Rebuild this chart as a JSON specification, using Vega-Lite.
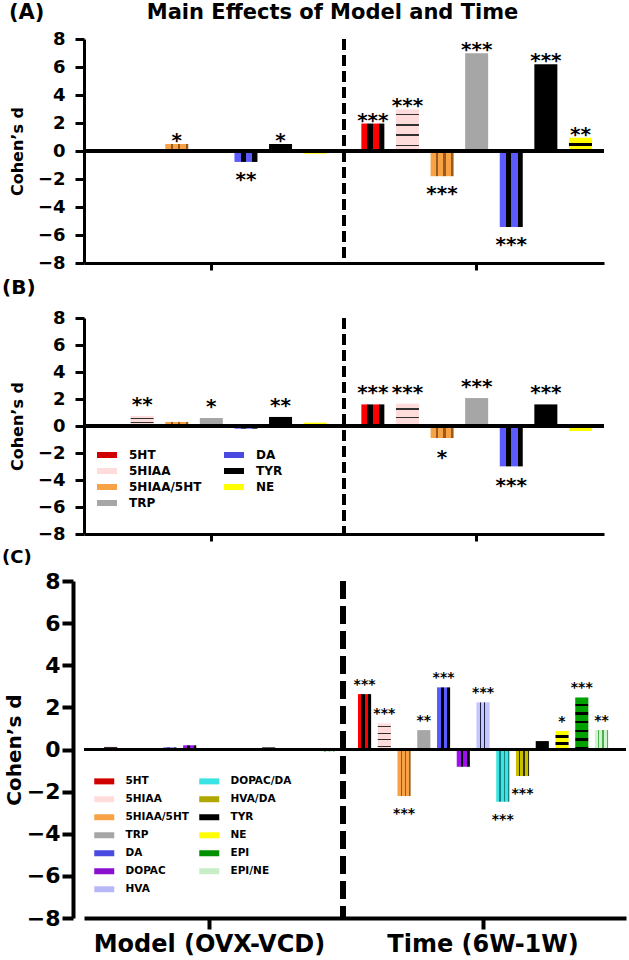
{
  "$schema": "https://vega.github.io/schema/vega-lite/v6.json",
  "padding": {"left": 2, "top": 2, "right": 0, "bottom": 0},
  "columns": 1,
  "spacing": 6,
  "resolve": {"scale": {"x": "independent", "y": "independent", "xOffset": "independent", "fill": "independent"}, "legend": {"fill": "independent"}},
  "config": {
    "font": "DejaVu Sans",
    "view": {"stroke": null},
    "axis": {"domainColor": "black", "tickColor": "black", "labelColor": "black", "titleColor": "black", "grid": false, "labelFontWeight": "bold", "titleFontWeight": "bold", "labelFont": "DejaVu Sans", "titleFont": "DejaVu Sans", "labelOverlap": false},
    "axisY": {"tickCount": 9, "labelOverlap": false},
    "title": {"font": "DejaVu Sans", "fontWeight": "bold", "color": "black", "anchor": "start", "frame": "group"},
    "legend": {"labelFont": "DejaVu Sans", "labelFontWeight": "bold", "labelColor": "black"}
  },
  "datasets": {
    "A": [
      {"g": "Model (OVX-VCD)", "m": "5HT", "d": 0, "s": ""},
      {"g": "Model (OVX-VCD)", "m": "5HIAA", "d": 0, "s": ""},
      {"g": "Model (OVX-VCD)", "m": "5HIAA/5HT", "d": 0.5, "s": "*"},
      {"g": "Model (OVX-VCD)", "m": "TRP", "d": 0, "s": ""},
      {"g": "Model (OVX-VCD)", "m": "DA", "d": -0.78, "s": "**"},
      {"g": "Model (OVX-VCD)", "m": "TYR", "d": 0.5, "s": "*"},
      {"g": "Model (OVX-VCD)", "m": "NE", "d": -0.2, "s": ""},
      {"g": "Time (6W-1W)", "m": "5HT", "d": 1.96, "s": "***"},
      {"g": "Time (6W-1W)", "m": "5HIAA", "d": 2.97, "s": "***"},
      {"g": "Time (6W-1W)", "m": "5HIAA/5HT", "d": -1.8, "s": "***"},
      {"g": "Time (6W-1W)", "m": "TRP", "d": 6.98, "s": "***"},
      {"g": "Time (6W-1W)", "m": "DA", "d": -5.43, "s": "***"},
      {"g": "Time (6W-1W)", "m": "TYR", "d": 6.2, "s": "***"},
      {"g": "Time (6W-1W)", "m": "NE", "d": 0.95, "s": "**"}
    ],
    "B": [
      {"g": "Model (OVX-VCD)", "m": "5HT", "d": 0, "s": ""},
      {"g": "Model (OVX-VCD)", "m": "5HIAA", "d": 0.74, "s": "**"},
      {"g": "Model (OVX-VCD)", "m": "5HIAA/5HT", "d": 0.3, "s": ""},
      {"g": "Model (OVX-VCD)", "m": "TRP", "d": 0.59, "s": "*"},
      {"g": "Model (OVX-VCD)", "m": "DA", "d": -0.2, "s": ""},
      {"g": "Model (OVX-VCD)", "m": "TYR", "d": 0.67, "s": "**"},
      {"g": "Model (OVX-VCD)", "m": "NE", "d": 0.25, "s": ""},
      {"g": "Time (6W-1W)", "m": "5HT", "d": 1.6, "s": "***"},
      {"g": "Time (6W-1W)", "m": "5HIAA", "d": 1.65, "s": "***"},
      {"g": "Time (6W-1W)", "m": "5HIAA/5HT", "d": -0.89, "s": "*"},
      {"g": "Time (6W-1W)", "m": "TRP", "d": 2.07, "s": "***"},
      {"g": "Time (6W-1W)", "m": "DA", "d": -2.99, "s": "***"},
      {"g": "Time (6W-1W)", "m": "TYR", "d": 1.6, "s": "***"},
      {"g": "Time (6W-1W)", "m": "NE", "d": -0.37, "s": ""}
    ],
    "C": [
      {"g": "Model (OVX-VCD)", "m": "5HT", "d": 0, "s": ""},
      {"g": "Model (OVX-VCD)", "m": "5HIAA", "d": 0.15, "s": ""},
      {"g": "Model (OVX-VCD)", "m": "5HIAA/5HT", "d": 0, "s": ""},
      {"g": "Model (OVX-VCD)", "m": "TRP", "d": 0, "s": ""},
      {"g": "Model (OVX-VCD)", "m": "DA", "d": 0.1, "s": ""},
      {"g": "Model (OVX-VCD)", "m": "DOPAC", "d": 0.2, "s": ""},
      {"g": "Model (OVX-VCD)", "m": "HVA", "d": 0, "s": ""},
      {"g": "Model (OVX-VCD)", "m": "DOPAC/DA", "d": 0.06, "s": ""},
      {"g": "Model (OVX-VCD)", "m": "HVA/DA", "d": 0, "s": ""},
      {"g": "Model (OVX-VCD)", "m": "TYR", "d": 0.1, "s": ""},
      {"g": "Model (OVX-VCD)", "m": "NE", "d": 0.06, "s": ""},
      {"g": "Model (OVX-VCD)", "m": "EPI", "d": 0, "s": ""},
      {"g": "Model (OVX-VCD)", "m": "EPI/NE", "d": -0.1, "s": ""},
      {"g": "Time (6W-1W)", "m": "5HT", "d": 2.63, "s": "***"},
      {"g": "Time (6W-1W)", "m": "5HIAA", "d": 1.24, "s": "***"},
      {"g": "Time (6W-1W)", "m": "5HIAA/5HT", "d": -2.21, "s": "***"},
      {"g": "Time (6W-1W)", "m": "TRP", "d": 0.92, "s": "**"},
      {"g": "Time (6W-1W)", "m": "DA", "d": 2.95, "s": "***"},
      {"g": "Time (6W-1W)", "m": "DOPAC", "d": -0.82, "s": ""},
      {"g": "Time (6W-1W)", "m": "HVA", "d": 2.24, "s": "***"},
      {"g": "Time (6W-1W)", "m": "DOPAC/DA", "d": -2.48, "s": "***"},
      {"g": "Time (6W-1W)", "m": "HVA/DA", "d": -1.26, "s": "***"},
      {"g": "Time (6W-1W)", "m": "TYR", "d": 0.4, "s": ""},
      {"g": "Time (6W-1W)", "m": "NE", "d": 0.88, "s": "*"},
      {"g": "Time (6W-1W)", "m": "EPI", "d": 2.47, "s": "***"},
      {"g": "Time (6W-1W)", "m": "EPI/NE", "d": 0.92, "s": "**"}
    ]
  },
  "concat": [
    {
      "width": 520, "height": 224,
      "data": {"name": "A"},
      "title": {"text": "(A)\u00a0\u00a0\u00a0\u00a0\u00a0\u00a0\u00a0\u00a0\u00a0\u00a0\u00a0\u00a0\u00a0\u00a0Main Effects of Model and Time", "fontSize": 21, "offset": 7, "dx": -75},
      "layer": [
        {
          "mark": {"type": "bar"},
          "encoding": {
            "x": {"field": "g", "type": "nominal", "scale": {"domain": ["Model (OVX-VCD)", "Time (6W-1W)"], "paddingInner": 0.04, "paddingOuter": 0}, "axis": {"labels": false, "title": null, "tickSize": 7, "tickWidth": 3, "domainWidth": 3}},
            "xOffset": {"field": "m", "type": "nominal", "scale": {"domain": ["5HT", "5HIAA", "5HIAA/5HT", "TRP", "DA", "TYR", "NE"], "paddingInner": 0.335, "paddingOuter": 0.348}},
            "y": {"field": "d", "type": "quantitative", "scale": {"domain": [-8, 8], "nice": false}, "axis": {"values": [-8, -6, -4, -2, 0, 2, 4, 6, 8], "tickCount": 9, "labelOverlap": false, "title": "Cohen\u2019s d", "titleFontSize": 16, "labelFontSize": 18, "tickSize": 9, "tickWidth": 3, "domainWidth": 3, "labelPadding": 10, "titlePadding": 12}},
            "fill": {"field": "m", "type": "nominal", "legend": null,
              "scale": {"domain": ["5HT", "5HIAA", "5HIAA/5HT", "TRP", "DA", "TYR", "NE"], "range": ["#d00000", "#ffdcdc", "#f7a246", "#a6a6a6", "#4a4ae0", "#000000", "#ffff00"]},
              "condition": [
                {"test": "datum.m === '5HT'", "value": {"gradient": "linear", "x1": 0, "y1": 0, "x2": 1, "y2": 0, "stops": [{"offset": 0, "color": "#ff0000"}, {"offset": 0.25, "color": "#ff0000"}, {"offset": 0.25, "color": "#000000"}, {"offset": 0.5, "color": "#000000"}, {"offset": 0.5, "color": "#ff0000"}, {"offset": 0.75, "color": "#ff0000"}, {"offset": 0.75, "color": "#000000"}, {"offset": 1, "color": "#000000"}]}},
                {"test": "datum.m === '5HIAA'", "value": {"gradient": "linear", "x1": 0, "y1": 0, "x2": 0, "y2": 1, "stops": [{"offset": 0, "color": "#ffdcdc"}, {"offset": 0.1, "color": "#ffdcdc"}, {"offset": 0.1, "color": "#303030"}, {"offset": 0.14, "color": "#303030"}, {"offset": 0.14, "color": "#ffdcdc"}, {"offset": 0.35, "color": "#ffdcdc"}, {"offset": 0.35, "color": "#303030"}, {"offset": 0.39, "color": "#303030"}, {"offset": 0.39, "color": "#ffdcdc"}, {"offset": 0.6, "color": "#ffdcdc"}, {"offset": 0.6, "color": "#303030"}, {"offset": 0.64, "color": "#303030"}, {"offset": 0.64, "color": "#ffdcdc"}, {"offset": 0.85, "color": "#ffdcdc"}, {"offset": 0.85, "color": "#303030"}, {"offset": 0.89, "color": "#303030"}, {"offset": 0.89, "color": "#ffdcdc"}, {"offset": 1, "color": "#ffdcdc"}]}},
                {"test": "datum.m === '5HIAA/5HT'", "value": {"gradient": "linear", "x1": 0, "y1": 0, "x2": 1, "y2": 0, "stops": [{"offset": 0, "color": "#f7a246"}, {"offset": 0.23, "color": "#f7a246"}, {"offset": 0.23, "color": "#9a5a18"}, {"offset": 0.33, "color": "#9a5a18"}, {"offset": 0.33, "color": "#f7a246"}, {"offset": 0.56, "color": "#f7a246"}, {"offset": 0.56, "color": "#9a5a18"}, {"offset": 0.66, "color": "#9a5a18"}, {"offset": 0.66, "color": "#f7a246"}, {"offset": 0.89, "color": "#f7a246"}, {"offset": 0.89, "color": "#9a5a18"}, {"offset": 1, "color": "#9a5a18"}]}},
                {"test": "datum.m === 'DA'", "value": {"gradient": "linear", "x1": 0, "y1": 0, "x2": 1, "y2": 0, "stops": [{"offset": 0, "color": "#5b5bff"}, {"offset": 0.28, "color": "#5b5bff"}, {"offset": 0.28, "color": "#000000"}, {"offset": 0.5, "color": "#000000"}, {"offset": 0.5, "color": "#5b5bff"}, {"offset": 0.78, "color": "#5b5bff"}, {"offset": 0.78, "color": "#000000"}, {"offset": 1, "color": "#000000"}]}},
                {"test": "datum.m === 'NE' && datum.d > 0", "value": {"gradient": "linear", "x1": 0, "y1": 0, "x2": 0, "y2": 1, "stops": [{"offset": 0, "color": "#ffff00"}, {"offset": 0.38, "color": "#ffff00"}, {"offset": 0.38, "color": "#000000"}, {"offset": 0.62, "color": "#000000"}, {"offset": 0.62, "color": "#ffff00"}, {"offset": 1, "color": "#ffff00"}]}}
              ]
            }
          }
        },
        {"mark": {"type": "rule", "strokeWidth": 3, "color": "black"}, "encoding": {"y": {"datum": 0}}},
        {"mark": {"type": "rule", "strokeWidth": 3.5, "color": "black", "strokeDash": [11, 5]}, "encoding": {"x": {"datum": "Time (6W-1W)", "bandPosition": -0.021}}},
        {
          "transform": [{"filter": "datum.d >= 0"}],
          "mark": {"type": "text", "baseline": "alphabetic", "dy": 3, "fontSize": 20, "fontWeight": "bold", "color": "black"},
          "encoding": {"x": {"field": "g", "type": "nominal"}, "xOffset": {"field": "m", "type": "nominal"}, "y": {"field": "d", "type": "quantitative"}, "text": {"field": "s"}}
        },
        {
          "transform": [{"filter": "datum.d < 0"}],
          "mark": {"type": "text", "baseline": "alphabetic", "dy": 24, "fontSize": 20, "fontWeight": "bold", "color": "black"},
          "encoding": {"x": {"field": "g", "type": "nominal"}, "xOffset": {"field": "m", "type": "nominal"}, "y": {"field": "d", "type": "quantitative"}, "text": {"field": "s"}}
        }
      ]
    },
    {
      "width": 520, "height": 216,
      "data": {"name": "B"},
      "title": {"text": "(B)", "fontSize": 20, "offset": 11, "dx": -82},
      "layer": [
        {
          "mark": {"type": "bar"},
          "encoding": {
            "x": {"field": "g", "type": "nominal", "scale": {"domain": ["Model (OVX-VCD)", "Time (6W-1W)"], "paddingInner": 0.04, "paddingOuter": 0}, "axis": {"labels": false, "title": null, "tickSize": 7, "tickWidth": 3, "domainWidth": 3}},
            "xOffset": {"field": "m", "type": "nominal", "scale": {"domain": ["5HT", "5HIAA", "5HIAA/5HT", "TRP", "DA", "TYR", "NE"], "paddingInner": 0.335, "paddingOuter": 0.348}},
            "y": {"field": "d", "type": "quantitative", "scale": {"domain": [-8, 8], "nice": false}, "axis": {"values": [-8, -6, -4, -2, 0, 2, 4, 6, 8], "tickCount": 9, "labelOverlap": false, "title": "Cohen\u2019s d", "titleFontSize": 16, "labelFontSize": 18, "tickSize": 9, "tickWidth": 3, "domainWidth": 3, "labelPadding": 10, "titlePadding": 12}},
            "fill": {"field": "m", "type": "nominal",
              "legend": {"orient": "none", "legendX": 17, "legendY": 131, "columns": 2, "title": null, "symbolType": "M-2,-0.6H2V0.6H-2Z", "symbolSize": 100, "labelFontSize": 12, "labelOffset": 16, "rowPadding": 4, "columnPadding": 22, "symbolStrokeWidth": 0, "padding": 0},
              "scale": {"domain": ["5HT", "5HIAA", "5HIAA/5HT", "TRP", "DA", "TYR", "NE"], "range": ["#d00000", "#ffdcdc", "#f7a246", "#a6a6a6", "#4a4ae0", "#000000", "#ffff00"]},
              "condition": [
                {"test": "datum.m === '5HT'", "value": {"gradient": "linear", "x1": 0, "y1": 0, "x2": 1, "y2": 0, "stops": [{"offset": 0, "color": "#ff0000"}, {"offset": 0.25, "color": "#ff0000"}, {"offset": 0.25, "color": "#000000"}, {"offset": 0.5, "color": "#000000"}, {"offset": 0.5, "color": "#ff0000"}, {"offset": 0.75, "color": "#ff0000"}, {"offset": 0.75, "color": "#000000"}, {"offset": 1, "color": "#000000"}]}},
                {"test": "datum.m === '5HIAA'", "value": {"gradient": "linear", "x1": 0, "y1": 0, "x2": 0, "y2": 1, "stops": [{"offset": 0, "color": "#ffdcdc"}, {"offset": 0.2, "color": "#ffdcdc"}, {"offset": 0.2, "color": "#303030"}, {"offset": 0.26, "color": "#303030"}, {"offset": 0.26, "color": "#ffdcdc"}, {"offset": 0.6, "color": "#ffdcdc"}, {"offset": 0.6, "color": "#303030"}, {"offset": 0.66, "color": "#303030"}, {"offset": 0.66, "color": "#ffdcdc"}, {"offset": 1, "color": "#ffdcdc"}]}},
                {"test": "datum.m === '5HIAA/5HT'", "value": {"gradient": "linear", "x1": 0, "y1": 0, "x2": 1, "y2": 0, "stops": [{"offset": 0, "color": "#f7a246"}, {"offset": 0.23, "color": "#f7a246"}, {"offset": 0.23, "color": "#9a5a18"}, {"offset": 0.33, "color": "#9a5a18"}, {"offset": 0.33, "color": "#f7a246"}, {"offset": 0.56, "color": "#f7a246"}, {"offset": 0.56, "color": "#9a5a18"}, {"offset": 0.66, "color": "#9a5a18"}, {"offset": 0.66, "color": "#f7a246"}, {"offset": 0.89, "color": "#f7a246"}, {"offset": 0.89, "color": "#9a5a18"}, {"offset": 1, "color": "#9a5a18"}]}},
                {"test": "datum.m === 'DA'", "value": {"gradient": "linear", "x1": 0, "y1": 0, "x2": 1, "y2": 0, "stops": [{"offset": 0, "color": "#5b5bff"}, {"offset": 0.28, "color": "#5b5bff"}, {"offset": 0.28, "color": "#000000"}, {"offset": 0.5, "color": "#000000"}, {"offset": 0.5, "color": "#5b5bff"}, {"offset": 0.78, "color": "#5b5bff"}, {"offset": 0.78, "color": "#000000"}, {"offset": 1, "color": "#000000"}]}}
              ]
            }
          }
        },
        {"mark": {"type": "rule", "strokeWidth": 3, "color": "black"}, "encoding": {"y": {"datum": 0}}},
        {"mark": {"type": "rule", "strokeWidth": 3.5, "color": "black", "strokeDash": [11, 5]}, "encoding": {"x": {"datum": "Time (6W-1W)", "bandPosition": -0.021}}},
        {
          "transform": [{"filter": "datum.d >= 0"}],
          "mark": {"type": "text", "baseline": "alphabetic", "dy": -5, "fontSize": 20, "fontWeight": "bold", "color": "black"},
          "encoding": {"x": {"field": "g", "type": "nominal"}, "xOffset": {"field": "m", "type": "nominal"}, "y": {"field": "d", "type": "quantitative"}, "text": {"field": "s"}}
        },
        {
          "transform": [{"filter": "datum.d < 0"}],
          "mark": {"type": "text", "baseline": "alphabetic", "dy": 26, "fontSize": 20, "fontWeight": "bold", "color": "black"},
          "encoding": {"x": {"field": "g", "type": "nominal"}, "xOffset": {"field": "m", "type": "nominal"}, "y": {"field": "d", "type": "quantitative"}, "text": {"field": "s"}}
        }
      ]
    },
    {
      "width": 542, "height": 337,
      "data": {"name": "C"},
      "title": {"text": "(C)", "fontSize": 18, "offset": 3, "dx": -82},
      "layer": [
        {
          "mark": {"type": "bar"},
          "encoding": {
            "x": {"field": "g", "type": "nominal", "scale": {"domain": ["Model (OVX-VCD)", "Time (6W-1W)"], "paddingInner": 0.086, "paddingOuter": 0.0334, "align": 0.02}, "axis": {"title": null, "labelAngle": 0, "labelFontSize": 24, "labelLimit": 400, "labelPadding": 3, "tickSize": 11, "tickWidth": 4, "domainWidth": 4}},
            "xOffset": {"field": "m", "type": "nominal", "scale": {"domain": ["5HT", "5HIAA", "5HIAA/5HT", "TRP", "DA", "DOPAC", "HVA", "DOPAC/DA", "HVA/DA", "TYR", "NE", "EPI", "EPI/NE"], "paddingInner": 0.335, "paddingOuter": 0}},
            "y": {"field": "d", "type": "quantitative", "scale": {"domain": [-8, 8], "nice": false}, "axis": {"values": [-8, -6, -4, -2, 0, 2, 4, 6, 8], "tickCount": 9, "labelOverlap": false, "offset": 11, "title": "Cohen\u2019s d", "titleFontSize": 20, "labelFontSize": 22, "tickSize": 11, "tickWidth": 4, "domainWidth": 4, "labelPadding": 2, "titlePadding": 2}},
            "fill": {"field": "m", "type": "nominal",
              "legend": {"orient": "none", "legendX": 15, "legendY": 195, "columns": 2, "title": null, "symbolType": "M-2,-0.6H2V0.6H-2Z", "symbolSize": 100, "labelFontSize": 10.5, "labelOffset": 16, "rowPadding": 7, "columnPadding": 10, "symbolStrokeWidth": 0, "padding": 0},
              "scale": {"domain": ["5HT", "5HIAA", "5HIAA/5HT", "TRP", "DA", "DOPAC", "HVA", "DOPAC/DA", "HVA/DA", "TYR", "NE", "EPI", "EPI/NE"], "range": ["#d00000", "#ffdcdc", "#f7a246", "#a6a6a6", "#4a4ae0", "#8a10d0", "#b8b8f8", "#38e4e4", "#b0a800", "#000000", "#ffff00", "#009000", "#c8eec8"]},
              "condition": [
                {"test": "datum.m === '5HT'", "value": {"gradient": "linear", "x1": 0, "y1": 0, "x2": 1, "y2": 0, "stops": [{"offset": 0, "color": "#ff0000"}, {"offset": 0.25, "color": "#ff0000"}, {"offset": 0.25, "color": "#000000"}, {"offset": 0.5, "color": "#000000"}, {"offset": 0.5, "color": "#ff0000"}, {"offset": 0.75, "color": "#ff0000"}, {"offset": 0.75, "color": "#000000"}, {"offset": 1, "color": "#000000"}]}},
                {"test": "datum.m === 'DOPAC/DA'", "value": {"gradient": "linear", "x1": 0, "y1": 0, "x2": 1, "y2": 0, "stops": [{"offset": 0, "color": "#38e4e4"}, {"offset": 0.23, "color": "#38e4e4"}, {"offset": 0.23, "color": "#1a8080"}, {"offset": 0.33, "color": "#1a8080"}, {"offset": 0.33, "color": "#38e4e4"}, {"offset": 0.56, "color": "#38e4e4"}, {"offset": 0.56, "color": "#1a8080"}, {"offset": 0.66, "color": "#1a8080"}, {"offset": 0.66, "color": "#38e4e4"}, {"offset": 0.89, "color": "#38e4e4"}, {"offset": 0.89, "color": "#1a8080"}, {"offset": 1, "color": "#1a8080"}]}},
                {"test": "datum.m === '5HIAA'", "value": {"gradient": "linear", "x1": 0, "y1": 0, "x2": 0, "y2": 1, "stops": [{"offset": 0, "color": "#ffdcdc"}, {"offset": 0.1, "color": "#ffdcdc"}, {"offset": 0.1, "color": "#303030"}, {"offset": 0.14, "color": "#303030"}, {"offset": 0.14, "color": "#ffdcdc"}, {"offset": 0.35, "color": "#ffdcdc"}, {"offset": 0.35, "color": "#303030"}, {"offset": 0.39, "color": "#303030"}, {"offset": 0.39, "color": "#ffdcdc"}, {"offset": 0.6, "color": "#ffdcdc"}, {"offset": 0.6, "color": "#303030"}, {"offset": 0.64, "color": "#303030"}, {"offset": 0.64, "color": "#ffdcdc"}, {"offset": 0.85, "color": "#ffdcdc"}, {"offset": 0.85, "color": "#303030"}, {"offset": 0.89, "color": "#303030"}, {"offset": 0.89, "color": "#ffdcdc"}, {"offset": 1, "color": "#ffdcdc"}]}},
                {"test": "datum.m === 'HVA/DA'", "value": {"gradient": "linear", "x1": 0, "y1": 0, "x2": 1, "y2": 0, "stops": [{"offset": 0, "color": "#c8bf00"}, {"offset": 0.22, "color": "#c8bf00"}, {"offset": 0.22, "color": "#303000"}, {"offset": 0.33, "color": "#303000"}, {"offset": 0.33, "color": "#c8bf00"}, {"offset": 0.55, "color": "#c8bf00"}, {"offset": 0.55, "color": "#303000"}, {"offset": 0.66, "color": "#303000"}, {"offset": 0.66, "color": "#c8bf00"}, {"offset": 0.88, "color": "#c8bf00"}, {"offset": 0.88, "color": "#303000"}, {"offset": 1, "color": "#303000"}]}},
                {"test": "datum.m === '5HIAA/5HT'", "value": {"gradient": "linear", "x1": 0, "y1": 0, "x2": 1, "y2": 0, "stops": [{"offset": 0, "color": "#f7a246"}, {"offset": 0.23, "color": "#f7a246"}, {"offset": 0.23, "color": "#9a5a18"}, {"offset": 0.33, "color": "#9a5a18"}, {"offset": 0.33, "color": "#f7a246"}, {"offset": 0.56, "color": "#f7a246"}, {"offset": 0.56, "color": "#9a5a18"}, {"offset": 0.66, "color": "#9a5a18"}, {"offset": 0.66, "color": "#f7a246"}, {"offset": 0.89, "color": "#f7a246"}, {"offset": 0.89, "color": "#9a5a18"}, {"offset": 1, "color": "#9a5a18"}]}},
                {"test": "datum.m === 'NE' && datum.d > 0.3", "value": {"gradient": "linear", "x1": 0, "y1": 0, "x2": 0, "y2": 1, "stops": [{"offset": 0, "color": "#ffff00"}, {"offset": 0.22, "color": "#ffff00"}, {"offset": 0.22, "color": "#000000"}, {"offset": 0.38, "color": "#000000"}, {"offset": 0.38, "color": "#ffff00"}, {"offset": 0.62, "color": "#ffff00"}, {"offset": 0.62, "color": "#000000"}, {"offset": 0.78, "color": "#000000"}, {"offset": 0.78, "color": "#ffff00"}, {"offset": 1, "color": "#ffff00"}]}},
                {"test": "datum.m === 'DA'", "value": {"gradient": "linear", "x1": 0, "y1": 0, "x2": 1, "y2": 0, "stops": [{"offset": 0, "color": "#5b5bff"}, {"offset": 0.28, "color": "#5b5bff"}, {"offset": 0.28, "color": "#000000"}, {"offset": 0.5, "color": "#000000"}, {"offset": 0.5, "color": "#5b5bff"}, {"offset": 0.78, "color": "#5b5bff"}, {"offset": 0.78, "color": "#000000"}, {"offset": 1, "color": "#000000"}]}},
                {"test": "datum.m === 'EPI'", "value": {"gradient": "linear", "x1": 0, "y1": 0, "x2": 0, "y2": 1, "stops": [{"offset": 0, "color": "#00a000"}, {"offset": 0.12, "color": "#00a000"}, {"offset": 0.12, "color": "#000000"}, {"offset": 0.167, "color": "#000000"}, {"offset": 0.167, "color": "#00a000"}, {"offset": 0.287, "color": "#00a000"}, {"offset": 0.287, "color": "#000000"}, {"offset": 0.333, "color": "#000000"}, {"offset": 0.333, "color": "#00a000"}, {"offset": 0.453, "color": "#00a000"}, {"offset": 0.453, "color": "#000000"}, {"offset": 0.5, "color": "#000000"}, {"offset": 0.5, "color": "#00a000"}, {"offset": 0.62, "color": "#00a000"}, {"offset": 0.62, "color": "#000000"}, {"offset": 0.667, "color": "#000000"}, {"offset": 0.667, "color": "#00a000"}, {"offset": 0.787, "color": "#00a000"}, {"offset": 0.787, "color": "#000000"}, {"offset": 0.833, "color": "#000000"}, {"offset": 0.833, "color": "#00a000"}, {"offset": 0.953, "color": "#00a000"}, {"offset": 0.953, "color": "#000000"}, {"offset": 1, "color": "#000000"}]}},
                {"test": "datum.m === 'DOPAC'", "value": {"gradient": "linear", "x1": 0, "y1": 0, "x2": 1, "y2": 0, "stops": [{"offset": 0, "color": "#a010f0"}, {"offset": 0.3, "color": "#a010f0"}, {"offset": 0.3, "color": "#000000"}, {"offset": 0.5, "color": "#000000"}, {"offset": 0.5, "color": "#a010f0"}, {"offset": 0.8, "color": "#a010f0"}, {"offset": 0.8, "color": "#000000"}, {"offset": 1, "color": "#000000"}]}},
                {"test": "datum.m === 'EPI/NE'", "value": {"gradient": "linear", "x1": 0, "y1": 0, "x2": 1, "y2": 0, "stops": [{"offset": 0, "color": "#d0f4d0"}, {"offset": 0.23, "color": "#d0f4d0"}, {"offset": 0.23, "color": "#50b050"}, {"offset": 0.33, "color": "#50b050"}, {"offset": 0.33, "color": "#d0f4d0"}, {"offset": 0.56, "color": "#d0f4d0"}, {"offset": 0.56, "color": "#50b050"}, {"offset": 0.66, "color": "#50b050"}, {"offset": 0.66, "color": "#d0f4d0"}, {"offset": 0.89, "color": "#d0f4d0"}, {"offset": 0.89, "color": "#50b050"}, {"offset": 1, "color": "#50b050"}]}},
                {"test": "datum.m === 'HVA'", "value": {"gradient": "linear", "x1": 0, "y1": 0, "x2": 1, "y2": 0, "stops": [{"offset": 0, "color": "#c4c4ff"}, {"offset": 0.27, "color": "#c4c4ff"}, {"offset": 0.27, "color": "#202040"}, {"offset": 0.33, "color": "#202040"}, {"offset": 0.33, "color": "#c4c4ff"}, {"offset": 0.6, "color": "#c4c4ff"}, {"offset": 0.6, "color": "#202040"}, {"offset": 0.66, "color": "#202040"}, {"offset": 0.66, "color": "#c4c4ff"}, {"offset": 1, "color": "#c4c4ff"}]}}
              ]
            }
          }
        },
        {"mark": {"type": "rule", "strokeWidth": 3, "color": "black"}, "encoding": {"y": {"datum": 0}}},
        {"mark": {"type": "rule", "strokeWidth": 5, "color": "black", "strokeDash": [18, 7]}, "encoding": {"x": {"datum": "Time (6W-1W)", "bandPosition": -0.06}}},
        {
          "transform": [{"filter": "datum.d >= 0"}],
          "mark": {"type": "text", "baseline": "alphabetic", "dy": -5, "fontSize": 14, "fontWeight": "bold", "color": "black"},
          "encoding": {"x": {"field": "g", "type": "nominal"}, "xOffset": {"field": "m", "type": "nominal"}, "y": {"field": "d", "type": "quantitative"}, "text": {"field": "s"}}
        },
        {
          "transform": [{"filter": "datum.d < 0"}],
          "mark": {"type": "text", "baseline": "alphabetic", "dy": 22, "fontSize": 14, "fontWeight": "bold", "color": "black"},
          "encoding": {"x": {"field": "g", "type": "nominal"}, "xOffset": {"field": "m", "type": "nominal"}, "y": {"field": "d", "type": "quantitative"}, "text": {"field": "s"}}
        }
      ]
    }
  ]
}
